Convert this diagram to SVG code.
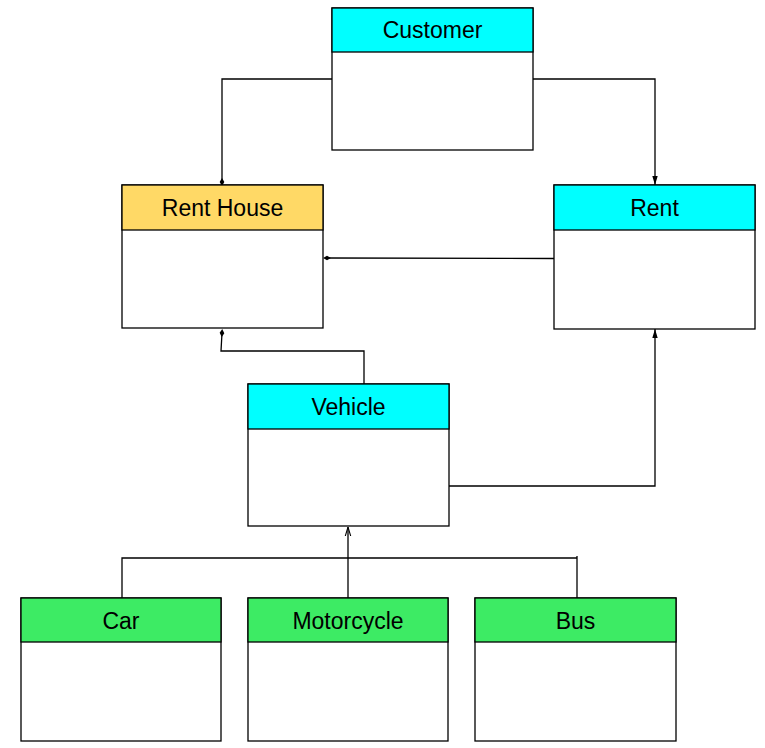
<svg xmlns="http://www.w3.org/2000/svg" width="765" height="748" viewBox="0 0 765 748">
<style>
.box{fill:#fff;stroke:#000;stroke-width:1.3}
.hd{stroke:#000;stroke-width:1.3}
.cy{fill:#00ffff}
.ye{fill:#ffd966}
.gr{fill:#3deb64}
text{font-family:"Liberation Sans",Arial,sans-serif;font-size:23px;fill:#000;text-anchor:middle}
.c{fill:none;stroke:#000;stroke-width:1.3}
</style>
<defs>
<marker id="dia" viewBox="0 0 10 10" refX="5" refY="5" markerWidth="6" markerHeight="6" orient="auto"><path d="M0,5 L5,2 L10,5 L5,8 Z" fill="#000"/></marker>
<marker id="arr" viewBox="0 0 10 10" refX="10" refY="5" markerWidth="7" markerHeight="7" orient="auto"><path d="M0,2 L10,5 L0,8 Z" fill="#000"/></marker>
<marker id="oarr" viewBox="0 0 10 10" refX="10" refY="5" markerWidth="7" markerHeight="7" orient="auto"><path d="M0,2 L10,5 L0,8" fill="none" stroke="#000" stroke-width="1.2"/></marker>
</defs>
<g id="connectors">
<path class="c" d="M332,79 H222 V182" marker-end="url(#dia)"/>
<path class="c" d="M533,79 H655 V185" marker-end="url(#arr)"/>
<path class="c" d="M554,258.5 L327,258" marker-end="url(#dia)"/>
<path class="c" d="M364,384 V351 H221 L222,333" marker-end="url(#dia)"/>
<path class="c" d="M448,486 H655 V329" marker-end="url(#arr)"/>
<path class="c" d="M348,598 V527" marker-end="url(#oarr)"/>
<path class="c" d="M122,598 V558 H577"/>
<path class="c" d="M577,598 V556"/>
</g>
<g id="customer">
<rect class="box" x="332" y="8" width="201" height="142"/>
<rect class="hd cy" x="332" y="8" width="201" height="44"/>
<text x="432.5" y="38">Customer</text>
</g>
<g id="rent-house">
<rect class="box" x="122" y="185" width="201" height="143"/>
<rect class="hd ye" x="122" y="185" width="201" height="45"/>
<text x="222.5" y="216">Rent House</text>
</g>
<g id="rent">
<rect class="box" x="554" y="185" width="201" height="144"/>
<rect class="hd cy" x="554" y="185" width="201" height="45"/>
<text x="654.5" y="216">Rent</text>
</g>
<g id="vehicle">
<rect class="box" x="248" y="384" width="201" height="142"/>
<rect class="hd cy" x="248" y="384" width="201" height="45"/>
<text x="348.5" y="415">Vehicle</text>
</g>
<g id="car">
<rect class="box" x="21" y="598" width="200" height="143"/>
<rect class="hd gr" x="21" y="598" width="200" height="44"/>
<text x="121" y="628.5">Car</text>
</g>
<g id="motorcycle">
<rect class="box" x="248" y="598" width="200" height="143"/>
<rect class="hd gr" x="248" y="598" width="200" height="44"/>
<text x="348" y="628.5">Motorcycle</text>
</g>
<g id="bus">
<rect class="box" x="475" y="598" width="201" height="143"/>
<rect class="hd gr" x="475" y="598" width="201" height="44"/>
<text x="575.5" y="628.5">Bus</text>
</g>
</svg>
